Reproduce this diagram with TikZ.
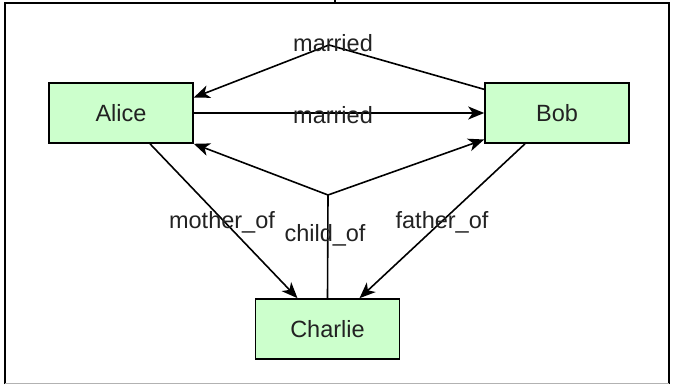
\documentclass[tikz,border=0pt]{standalone}
\usepackage{fontspec}
\setmainfont{Liberation Sans}
\usetikzlibrary{arrows.meta,calc}
\definecolor{boxfill}{HTML}{CCFFCC}
\definecolor{ink}{HTML}{222222}
\begin{document}
\begin{tikzpicture}[x=1pt,y=-1pt,
  person/.style={draw=black,line width=1.6pt,fill=boxfill,minimum width=144pt,minimum height=60pt,inner sep=0pt,text=ink,font=\fontsize{23.5}{26}\selectfont},
  rel/.style={draw=black,line width=1.6pt,-{Stealth[length=16pt,width=13pt,inset=4.5pt]}},
  lbl/.style={font=\fontsize{23.5}{26}\selectfont,text=ink,inner sep=0pt}]
\useasboundingbox (0,0) rectangle (674,385);
% frame
\draw[line width=1.8pt] (5,384) -- (5,3) -- (669,3) -- (669,384);
\draw[line width=1pt,gray!60] (5,383.5) -- (669,383.5);
\draw[line width=1.6pt] (335,0) -- (335,3);
% people
\node[person] (alice) at (121,113) {Alice};
\node[person] (bob) at (557,113) {Bob};
\node[person] (charlie) at (327.5,329) {Charlie};
% married (Bob to Alice, over the top)
\coordinate (top) at (329,45);
\draw[rel] (bob.162) -- (top) -- (alice.12.5);
\node[lbl] (m1) at (333,43) {married};
% married (Alice to Bob)
\draw[rel] (alice) -- (bob);
\node[lbl] (m2) at (333,115) {married};
% child_of
\coordinate (fork) at (328,195);
\draw[line width=1.6pt] (charlie.north) -- (fork);
\draw[rel] (fork) -- (alice.south east);
\draw[rel] (fork) -- (bob.200);
\node[lbl] (c1) at (325,235) {child\_of};
% mother_of, father_of
\draw[rel] ([xshift=29pt]alice.south) -- ([xshift=-30pt]charlie.north);
\node[lbl] (mo) at (222,222) {mother\_of};
\draw[rel] ([xshift=-32pt]bob.south) -- ([xshift=32pt]charlie.north);
\node[lbl] (fa) at (442,222) {father\_of};
\end{tikzpicture}
\end{document}
